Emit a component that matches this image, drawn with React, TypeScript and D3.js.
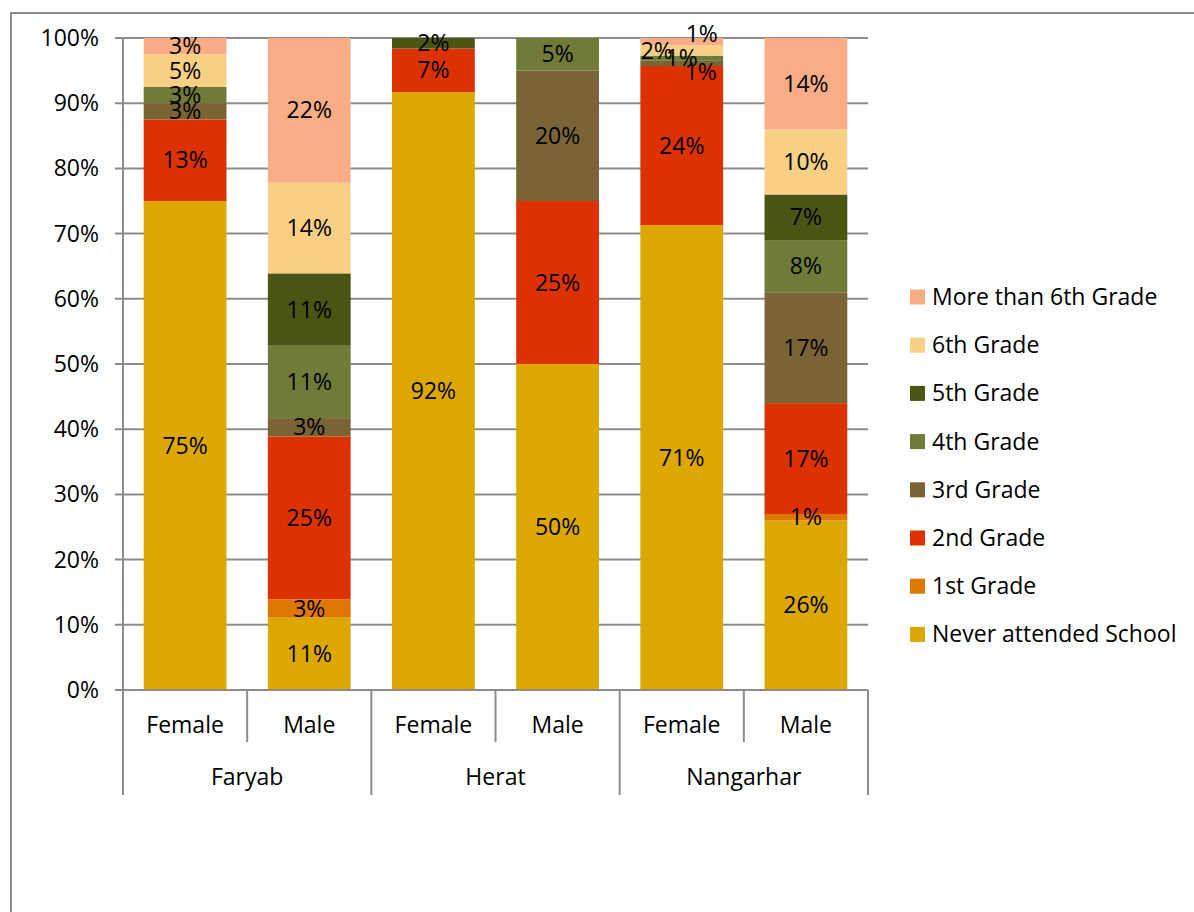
import React from 'react'
import * as d3 from 'd3'

const provinces = ['Faryab', 'Herat', 'Nangarhar']
const genders = ['Female', 'Male']
const grades = [
  'Never attended School',
  '1st Grade',
  '2nd Grade',
  '3rd Grade',
  '4th Grade',
  '5th Grade',
  '6th Grade',
  'More than 6th Grade',
]
const gradeColors = ['#DCA800', '#DE7700', '#DC3200', '#7A6436', '#6F7B37', '#4A5513', '#F8D085', '#F8AD86']

// share (%) per grade, order as in `grades`
const faryabFemale = [75, 0, 12.5, 2.5, 2.5, 0, 5, 2.5]
const faryabMale = [11.1, 2.8, 25, 2.8, 11.1, 11.1, 13.9, 22.2]
const heratFemale = [91.7, 0, 6.7, 0, 0, 1.6, 0, 0]
const heratMale = [50, 0, 25, 20, 5, 0, 0, 0]
const nangarharFemale = [71.3, 0, 24.4, 0.8, 0.8, 0, 1.6, 1.1]
const nangarharMale = [26, 1, 17, 17, 8, 7, 10, 14]

const yTicks = [0, 10, 20, 30, 40, 50, 60, 70, 80, 90, 100]

const bars = [
  { province: 'Faryab', gender: 'Female', values: faryabFemale },
  { province: 'Faryab', gender: 'Male', values: faryabMale },
  { province: 'Herat', gender: 'Female', values: heratFemale },
  { province: 'Herat', gender: 'Male', values: heratMale },
  { province: 'Nangarhar', gender: 'Female', values: nangarharFemale },
  { province: 'Nangarhar', gender: 'Male', values: nangarharMale },
]

// labels that were dragged by hand in the original
const nudges: Record<string, Record<number, [number, number]>> = {
  'Nangarhar-Female': { 3: [19, 9], 6: [-25, 1], 7: [20, -8] },
}

const W = 1194
const H = 912
const font = '"Open Sans", "Noto Sans", sans-serif'
const fs = 23

export default function App() {
  const left = 123
  const right = 868
  const top = 38
  const bottom = 690

  const x = d3
    .scaleBand()
    .domain(bars.map(b => b.province + '-' + b.gender))
    .range([left, right])
    .paddingInner(1 / 3)
    .paddingOuter(1 / 6)
  const y = d3.scaleLinear().domain([0, 100]).range([bottom, top])
  const step = x.step()
  const groupW = step * genders.length

  const stack = d3
    .stack<any>()
    .keys(grades.map((_, i) => String(i)))
    .value((d, k) => d.values[+k])
  const series = stack(bars)

  return (
    <svg width={W} height={H} style={{ position: 'absolute', left: 0, top: 0, background: '#fff' }}>
      <path d={`M11,${H} V13 H${W}`} fill="none" stroke="#8c8c8c" strokeWidth={2} />

      {yTicks.map(t => (
        <g key={t}>
          <line x1={left - 8} x2={right} y1={y(t)} y2={y(t)} stroke="#8c8c8c" strokeWidth={2} />
          <text x={99} y={y(t)} dy="0.35em" textAnchor="end" fontFamily={font} fontSize={fs}>
            {t}%
          </text>
        </g>
      ))}
      <line x1={left} x2={left} y1={top} y2={bottom} stroke="#8c8c8c" strokeWidth={2} />

      {series.map((s, i) => (
        <g key={i} fill={gradeColors[i]}>
          {s.map((d, j) => {
            const key = bars[j].province + '-' + bars[j].gender
            const h = y(d[0]) - y(d[1])
            if (h <= 0) return null
            return <rect key={j} x={x(key)} y={y(d[1])} width={x.bandwidth()} height={h} />
          })}
        </g>
      ))}

      {series.map((s, i) => (
        <g key={'l' + i}>
          {s.map((d, j) => {
            const key = bars[j].province + '-' + bars[j].gender
            const v = d[1] - d[0]
            if (v <= 0) return null
            const n = (nudges[key] && nudges[key][i]) || [0, 0]
            return (
              <text
                key={j}
                x={(x(key) as number) + x.bandwidth() / 2 + n[0]}
                y={y((d[0] + d[1]) / 2) + n[1]}
                dy="0.35em"
                textAnchor="middle"
                fontFamily={font}
                fontSize={fs}
              >
                {Math.round(v)}%
              </text>
            )
          })}
        </g>
      ))}

      {/* category axis */}
      <line x1={left - 8} x2={right} y1={bottom} y2={bottom} stroke="#8c8c8c" strokeWidth={2} />
      {bars.map((b, j) => {
        const key = b.province + '-' + b.gender
        const cx = (x(key) as number) + x.bandwidth() / 2
        return (
          <g key={key}>
            {j % 2 === 1 && (
              <line x1={cx - step / 2} x2={cx - step / 2} y1={bottom} y2={742} stroke="#8c8c8c" strokeWidth={2} />
            )}
            <text x={cx} y={725} dy="0.35em" textAnchor="middle" fontFamily={font} fontSize={fs}>
              {b.gender}
            </text>
          </g>
        )
      })}
      {provinces.map((p, i) => (
        <g key={p}>
          <line x1={left + groupW * i} x2={left + groupW * i} y1={bottom} y2={795} stroke="#8c8c8c" strokeWidth={2} />
          <text x={left + groupW * (i + 0.5)} y={777} dy="0.35em" textAnchor="middle" fontFamily={font} fontSize={fs}>
            {p}
          </text>
        </g>
      ))}
      <line x1={right} x2={right} y1={bottom} y2={795} stroke="#8c8c8c" strokeWidth={2} />

      {/* legend */}
      {grades
        .map((g, i) => ({ g, i }))
        .reverse()
        .map(({ g, i }, k) => {
          const ly = 297 + k * 48.2
          return (
            <g key={g}>
              <rect x={910} y={ly - 7.5} width={15} height={15} fill={gradeColors[i]} />
              <text x={932} y={ly} dy="0.35em" fontFamily={font} fontSize={fs}>
                {g}
              </text>
            </g>
          )
        })}
    </svg>
  )
}
